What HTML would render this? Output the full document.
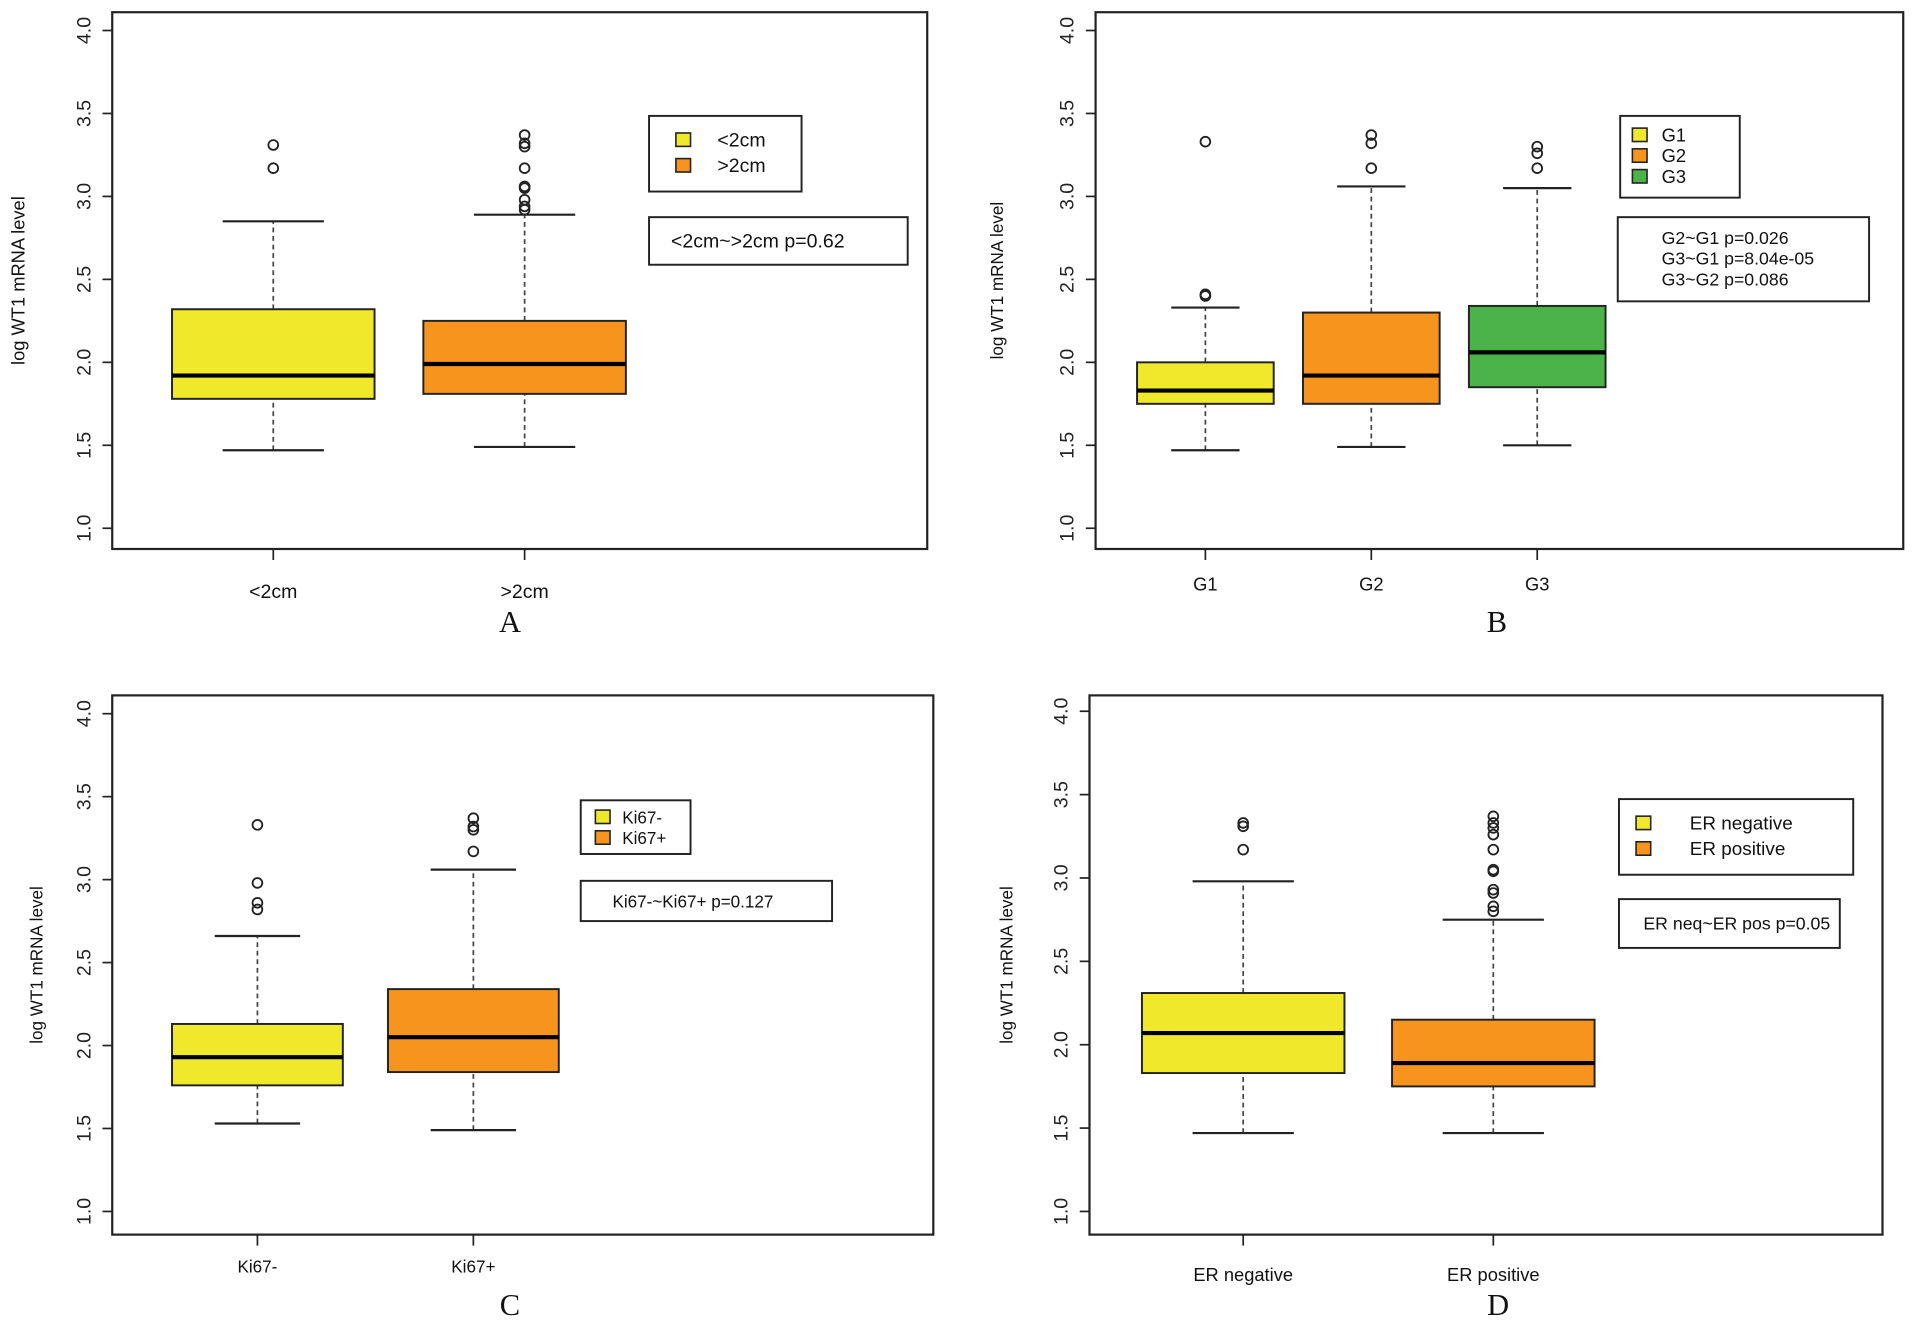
<!DOCTYPE html>
<html><head><meta charset="utf-8"><style>
html,body{margin:0;padding:0;background:#fff;}
svg{display:block;}
text{font-family:"Liberation Sans",Arial,sans-serif;}
text.serif{font-family:"Liberation Serif","Times New Roman",serif;}
</style></head>
<body>
<svg id="fig" width="1913" height="1331" viewBox="0 0 1568 1091" preserveAspectRatio="none" xmlns="http://www.w3.org/2000/svg"></svg>
<script>
// ---- data ----
const yTicks = [1.0, 1.5, 2.0, 2.5, 3.0, 3.5, 4.0];
const yTickLabels = ["1.0","1.5","2.0","2.5","3.0","3.5","4.0"];

const catsA = ["<2cm", ">2cm"];
const whLoA = [1.47, 1.49];
const q1A = [1.78, 1.81];
const medA = [1.92, 1.99];
const q3A = [2.32, 2.25];
const whHiA = [2.85, 2.89];
const outA = [[3.17, 3.31], [2.92, 2.94, 2.98, 3.05, 3.06, 3.17, 3.30, 3.32, 3.37]];

const catsB = ["G1", "G2", "G3"];
const whLoB = [1.47, 1.49, 1.50];
const q1B = [1.75, 1.75, 1.85];
const medB = [1.83, 1.92, 2.06];
const q3B = [2.00, 2.30, 2.34];
const whHiB = [2.33, 3.06, 3.05];
const outB = [[2.40, 2.41, 3.33], [3.17, 3.32, 3.37], [3.17, 3.26, 3.30]];

const catsC = ["Ki67-", "Ki67+"];
const whLoC = [1.53, 1.49];
const q1C = [1.76, 1.84];
const medC = [1.93, 2.05];
const q3C = [2.13, 2.34];
const whHiC = [2.66, 3.06];
const outC = [[2.82, 2.86, 2.98, 3.33], [3.17, 3.30, 3.32, 3.37]];

const catsD = ["ER negative", "ER positive"];
const whLoD = [1.47, 1.47];
const q1D = [1.83, 1.75];
const medD = [2.07, 1.89];
const q3D = [2.31, 2.15];
const whHiD = [2.98, 2.75];
const outD = [[3.17, 3.31, 3.33], [2.80, 2.83, 2.91, 2.93, 3.04, 3.05, 3.17, 3.26, 3.30, 3.33, 3.37]];

const COLORS = ["#f0e82a", "#f7941d", "#4cb34a"];
const NS = "http://www.w3.org/2000/svg";
const svg = document.getElementById("fig");

function mk(tag, attrs, parent, txt) {
  const e = document.createElementNS(NS, tag);
  for (const k in attrs) e.setAttribute(k, attrs[k]);
  if (txt !== undefined) e.textContent = txt;
  (parent || svg).appendChild(e);
  return e;
}

function panel(cfg, cats, whLo, q1, med, q3, whHi, outs) {
  const g = mk("g", {});
  
  
  const yScale = v => cfg.y1 + (v - 1) * (cfg.y4 - cfg.y1) / 3;
  const xScale = i => cfg.x0 + i * cfg.dx;
  const fr = mk("rect", {x: cfg.L, y: cfg.T, width: cfg.R - cfg.L, height: cfg.B - cfg.T, fill: "none", stroke: "#222", "stroke-width": 1.8}, g);
  
  
  yTicks.forEach((v, i) => {
    const y = yScale(v);
    mk("line", {x1: cfg.L - 8, x2: cfg.L, y1: y, y2: y, stroke: "#222", "stroke-width": 1.4}, g);
    const t = mk("text", {x: cfg.L - 18, y: y, "font-size": 16, "text-anchor": "middle", transform: `rotate(-90 ${cfg.L - 18} ${y})`, fill: "#222"}, g, yTickLabels[i]);
    
    
  });
  const yt = mk("text", {x: cfg.ytx, y: (cfg.T + cfg.B) / 2, "font-size": cfg.ytfs, "text-anchor": "middle", transform: `rotate(-90 ${cfg.ytx} ${(cfg.T + cfg.B) / 2})`, fill: "#111"}, g, "log WT1 mRNA level");
  
  
  const hw = cfg.hw, cw = hw * 0.5;
  cats.forEach((c, i) => {
    const x = xScale(i);
    const bg = mk("g", {}, g);
    
    
    mk("line", {x1: x, x2: x, y1: yScale(whLo[i]), y2: yScale(q1[i]), stroke: "#444", "stroke-width": 1.4, "stroke-dasharray": "4 3"}, bg);
    mk("line", {x1: x, x2: x, y1: yScale(q3[i]), y2: yScale(whHi[i]), stroke: "#444", "stroke-width": 1.4, "stroke-dasharray": "4 3"}, bg);
    mk("line", {x1: x - cw, x2: x + cw, y1: yScale(whLo[i]), y2: yScale(whLo[i]), stroke: "#222", "stroke-width": 1.8}, bg);
    mk("line", {x1: x - cw, x2: x + cw, y1: yScale(whHi[i]), y2: yScale(whHi[i]), stroke: "#222", "stroke-width": 1.8}, bg);
    mk("rect", {x: x - hw, y: yScale(q3[i]), width: 2 * hw, height: yScale(q1[i]) - yScale(q3[i]), fill: COLORS[i], stroke: "#222", "stroke-width": 1.6}, bg);
    mk("line", {x1: x - hw, x2: x + hw, y1: yScale(med[i]), y2: yScale(med[i]), stroke: "#000", "stroke-width": 3.4}, bg);
    outs[i].forEach(v => {
      const o = mk("circle", {cx: x, cy: yScale(v), r: 4, fill: "none", stroke: "#222", "stroke-width": 1.5}, bg);
      
      
    });
    mk("line", {x1: x, x2: x, y1: cfg.B, y2: cfg.B + 9, stroke: "#222", "stroke-width": 1.4}, g);
    const xl = mk("text", {x: x, y: cfg.xly, "font-size": cfg.xlfs, "text-anchor": "middle", fill: "#111"}, g, c);
    
    
  });
  const lg = mk("g", {}, g);
  
  
  mk("rect", {x: cfg.lg[0], y: cfg.lg[1], width: cfg.lg[2], height: cfg.lg[3], fill: "#fff", stroke: "#222", "stroke-width": 1.6}, lg);
  cats.forEach((c, i) => {
    const yy = cfg.lg[1] + cfg.lgPad + i * cfg.lgStep;
    const sw = mk("rect", {x: cfg.lg[0] + cfg.lgSw, y: yy - 6, width: 12, height: 11, fill: COLORS[i], stroke: "#222", "stroke-width": 1.3}, lg);
    
    
    const lt = mk("text", {x: cfg.lg[0] + cfg.lgTx, y: yy + 5, "font-size": cfg.lgfs, fill: "#111"}, lg, c);
    
    
  });
  const pb = mk("g", {}, g);
  
  
  mk("rect", {x: cfg.pb[0], y: cfg.pb[1], width: cfg.pb[2], height: cfg.pb[3], fill: "#fff", stroke: "#222", "stroke-width": 1.6}, pb);
  cfg.ptxt.forEach((s, i) => {
    mk("text", {x: cfg.pb[0] + cfg.ptx, y: cfg.pb[1] + cfg.pty + i * 17, "font-size": cfg.pfs, fill: "#111"}, pb, s);
  });
  const pl = mk("text", {x: cfg.letter[0], y: cfg.letter[1], "font-size": 25, "text-anchor": "middle", "class": "serif", fill: "#111"}, g, cfg.id);
  
  
}

panel({id: "A", L: 92, R: 760, T: 10, B: 450, y1: 433, y4: 25, x0: 224, dx: 206, hw: 83,
  ytx: 20, ytfs: 15, xly: 490, xlfs: 16,
  lg: [532, 95, 125, 62], lgPad: 20, lgStep: 21, lgSw: 22, lgTx: 56, lgfs: 16,
  pb: [532, 178, 212, 39], ptx: 18, pty: 25, pfs: 16, ptxt: ["<2cm~>2cm p=0.62"],
  letter: [418, 518]}, catsA, whLoA, q1A, medA, q3A, whHiA, outA);

panel({id: "B", L: 898, R: 1560, T: 10, B: 450, y1: 433, y4: 25, x0: 988, dx: 136, hw: 56,
  ytx: 822, ytfs: 14, xly: 484, xlfs: 15,
  lg: [1328, 95, 98, 67], lgPad: 16, lgStep: 17, lgSw: 10, lgTx: 34, lgfs: 15,
  pb: [1326, 178, 206, 69], ptx: 36, pty: 22, pfs: 14.5, ptxt: ["G2~G1 p=0.026", "G3~G1 p=8.04e-05", "G3~G2 p=0.086"],
  letter: [1227, 518]}, catsB, whLoB, q1B, medB, q3B, whHiB, outB);

panel({id: "C", L: 92, R: 765, T: 570, B: 1012, y1: 993, y4: 585, x0: 211, dx: 177, hw: 70,
  ytx: 35, ytfs: 14, xly: 1043, xlfs: 14,
  lg: [476, 656, 90, 44], lgPad: 14, lgStep: 17, lgSw: 12, lgTx: 34, lgfs: 14,
  pb: [476, 722, 206, 33], ptx: 26, pty: 22, pfs: 14, ptxt: ["Ki67-~Ki67+  p=0.127"],
  letter: [418, 1078]}, catsC, whLoC, q1C, medC, q3C, whHiC, outC);

panel({id: "D", L: 893, R: 1543, T: 570, B: 1012, y1: 993, y4: 583, x0: 1019, dx: 205, hw: 83,
  ytx: 830, ytfs: 14, xly: 1050, xlfs: 15,
  lg: [1327, 655, 192, 62], lgPad: 20, lgStep: 21, lgSw: 14, lgTx: 58, lgfs: 15.5,
  pb: [1327, 737, 181, 40], ptx: 20, pty: 25, pfs: 14.5, ptxt: ["ER neq~ER pos p=0.05"],
  letter: [1228, 1078]}, catsD, whLoD, q1D, medD, q3D, whHiD, outD);
</script>
</body></html>
